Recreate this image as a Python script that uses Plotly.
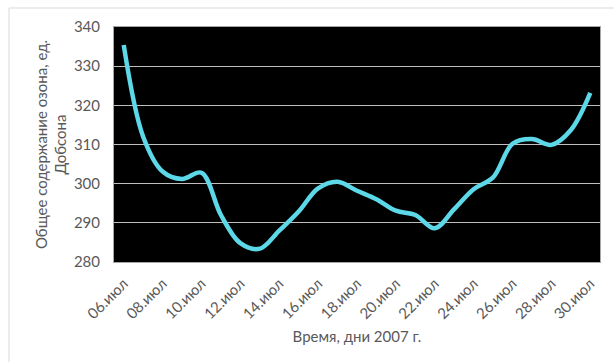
import plotly.graph_objects as go

days = ["06.июл", "07.июл", "08.июл", "09.июл", "10.июл", "11.июл", "12.июл",
        "13.июл", "14.июл", "15.июл", "16.июл", "17.июл", "18.июл", "19.июл",
        "20.июл", "21.июл", "22.июл", "23.июл", "24.июл", "25.июл", "26.июл",
        "27.июл", "28.июл", "29.июл", "30.июл"]
ozone = [335.4, 312.0, 303.1, 301.2, 302.8, 292.0, 284.8, 283.4, 288.0, 292.9,
         298.8, 300.5, 298.2, 296.0, 293.1, 292.0, 288.6, 293.5, 298.6, 301.6,
         310.2, 311.4, 309.9, 313.7, 323.2]
tick_labels = days[::2]

FONT = "Lato"
GRAY = "#595959"
FS = 15

fig = go.Figure()
fig.add_trace(go.Scatter(
    x=days, y=ozone, mode="lines",
    line=dict(color="#5cd8e8", width=4.5, shape="spline", smoothing=1.0),
    hoverinfo="x+y", showlegend=False,
))

fig.update_layout(
    width=614, height=362,
    margin=dict(l=114, r=14, t=27, b=100),
    paper_bgcolor="white",
    plot_bgcolor="black",
    font=dict(family=FONT, size=FS, color=GRAY),
    xaxis=dict(
        type="category",
        range=[-0.5, len(days) - 0.5],
        tickvals=tick_labels, ticktext=tick_labels,
        tickangle=-45,
        showgrid=False, zeroline=False,
        showline=True, linecolor="#a6a6a6", linewidth=1, mirror=True,
        ticks="", ticklabelstandoff=6,
        tickfont=dict(family=FONT, size=FS, color=GRAY),
        title=dict(text="Время, дни 2007 г.", standoff=10,
                   font=dict(family=FONT, size=FS, color=GRAY)),
    ),
    yaxis=dict(
        range=[280, 340], dtick=10, tick0=280,
        showgrid=True, gridcolor="#bfbfbf", gridwidth=1,
        zeroline=False,
        showline=True, linecolor="#a6a6a6", linewidth=1, mirror=True,
        ticks="", ticklabelstandoff=10,
        tickfont=dict(family=FONT, size=FS, color=GRAY),
        title=dict(text="Общее содержание озона, ед.<br>Добсона", standoff=3,
                   font=dict(family=FONT, size=FS, color=GRAY)),
    ),
    shapes=[dict(type="rect", xref="paper", yref="paper",
                 x0=(9 - 114) / 486, x1=(620 - 114) / 486,
                 y0=(262 - 375) / 235, y1=(262 - 8) / 235,
                 line=dict(color="#d9d9d9", width=1), layer="below")],
)

fig.write_html("out.html")
